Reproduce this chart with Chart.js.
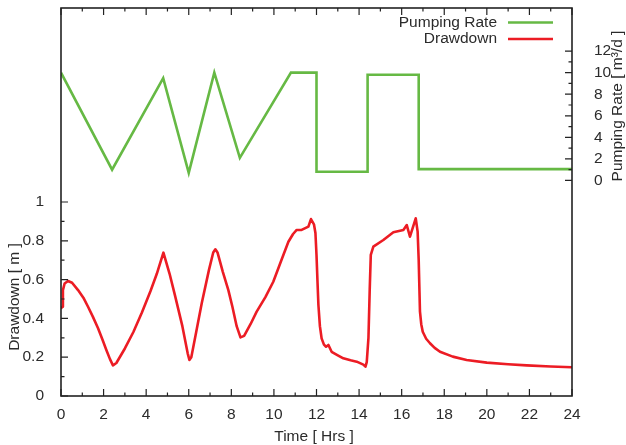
<!DOCTYPE html>
<html>
<head>
<meta charset="utf-8">
<script src="https://cdn.jsdelivr.net/npm/chart.js@4"></script>
<style>
  html, body { margin: 0; padding: 0; background: #fff; }
  #wrap { width: 626px; height: 445px; position: relative; }
</style>
</head>
<body>
<div id="wrap"><canvas id="c" width="626" height="445"></canvas></div>
<script>
// ---- data ----
const pumpTime = [0, 2.4, 4.8, 6.0, 7.2, 8.4, 10.8, 12.0, 12.0, 14.4, 14.4, 16.8, 16.8, 24];
const pumpRate = [10, 1, 9.5, 0.7, 10, 2.1, 10, 10, 0.8, 0.8, 9.8, 9.8, 1.05, 1.05];

const ddTime = [0, 0.05, 0.09, 0.17, 0.33, 0.52, 0.8, 1.05, 1.27, 1.5, 1.74, 1.95, 2.13, 2.3, 2.44,
  2.6, 3.0, 3.4, 3.8, 4.2, 4.5, 4.81, 5.1, 5.35, 5.7, 5.95, 6.03, 6.12, 6.35, 6.61, 6.95, 7.15, 7.25,
  7.35, 7.6, 7.86, 8.05, 8.25, 8.43, 8.6, 8.9, 9.19, 9.6, 9.97, 10.35, 10.68, 10.9, 11.07, 11.3, 11.62,
  11.74, 11.88, 11.95, 12.0, 12.05, 12.09, 12.16, 12.24, 12.35, 12.45, 12.56, 12.71, 13.0, 13.26,
  13.6, 13.89, 14.2, 14.3, 14.36, 14.44, 14.5, 14.55, 14.67, 15.14, 15.61, 16.08, 16.24, 16.39,
  16.66, 16.75, 16.8, 16.86, 16.92, 16.99, 17.15, 17.33, 17.55, 17.8, 18.4, 19.05, 20.0, 21.0,
  21.87, 23.0, 24];
const drawdown = [0.45, 0.46, 0.546, 0.58, 0.593, 0.584, 0.546, 0.507, 0.46, 0.408, 0.349, 0.29, 0.237, 0.19, 0.158,
  0.17, 0.245, 0.33, 0.43, 0.54, 0.63, 0.739, 0.63, 0.52, 0.36, 0.22, 0.186, 0.2, 0.33, 0.478, 0.65, 0.74, 0.756,
  0.74, 0.64, 0.546, 0.46, 0.36, 0.302, 0.31, 0.37, 0.435, 0.51, 0.589, 0.7, 0.795, 0.835, 0.856, 0.856, 0.873,
  0.912, 0.885, 0.84, 0.727, 0.58, 0.469, 0.36, 0.297, 0.265, 0.254, 0.263, 0.228, 0.21, 0.194,
  0.184, 0.177, 0.162, 0.151, 0.175, 0.3, 0.55, 0.727, 0.77, 0.804, 0.844, 0.856, 0.881, 0.821,
  0.916, 0.847, 0.7, 0.435, 0.37, 0.331, 0.295, 0.272, 0.248, 0.228, 0.203, 0.186, 0.172, 0.164,
  0.158, 0.152, 0.148];

const xMajorLabels = [0, 2, 4, 6, 8, 10, 12, 14, 16, 18, 20, 22, 24];
const yLeftLabels = [0, 0.2, 0.4, 0.6, 0.8, 1];
const yRightLabels = [0, 2, 4, 6, 8, 10, 12];

const seriesNames = ['Pumping Rate', 'Drawdown'];
const seriesColors = ['#66b944', '#ec1c24'];
const xTitle = 'Time [ Hrs ]';
const yTitle = 'Drawdown [ m ]';
const y2Title = 'Pumping Rate [ m\u00B3/d ]';

// ---- chart ----
const FONT = '"Liberation Sans", Arial, Helvetica, sans-serif';
const FSIZE = 15.5;
const TXT = '#2b2b2b';
Chart.defaults.font.family = FONT;
Chart.defaults.font.size = FSIZE;
Chart.defaults.color = TXT;

const near = (a, b) => Math.abs(a - b) < 1e-6;

const decorPlugin = {
  id: 'decor',
  afterDraw(chart) {
    const ctx = chart.ctx;
    const a = chart.chartArea;
    const xs = chart.scales.x, ys = chart.scales.y, y2 = chart.scales.y2;
    ctx.save();
    // border
    ctx.strokeStyle = '#222';
    ctx.lineWidth = 1.6;
    ctx.strokeRect(a.left, a.top, a.right - a.left, a.bottom - a.top);
    // ticks
    ctx.lineWidth = 1.2;
    ctx.beginPath();
    xs.ticks.forEach(t => {
      const px = xs.getPixelForValue(t.value);
      const len = xMajorLabels.some(v => near(v, t.value)) ? 7 : 3.5;
      ctx.moveTo(px, a.bottom); ctx.lineTo(px, a.bottom - len);
      ctx.moveTo(px, a.top); ctx.lineTo(px, a.top + len);
    });
    ys.ticks.forEach(t => {
      if (t.value > 1.0001) return;
      const py = ys.getPixelForValue(t.value);
      const len = yLeftLabels.some(v => near(v, t.value)) ? 7 : 3.5;
      ctx.moveTo(a.left, py); ctx.lineTo(a.left + len, py);
    });
    y2.ticks.forEach(t => {
      if (t.value < -0.001 || t.value > 12.001) return;
      const py = y2.getPixelForValue(t.value);
      const len = yRightLabels.some(v => near(v, t.value)) ? 7 : 3.5;
      ctx.moveTo(a.right, py); ctx.lineTo(a.right - len, py);
    });
    ctx.stroke();

    // legend
    ctx.font = FSIZE + 'px ' + FONT;
    ctx.textAlign = 'right';
    ctx.textBaseline = 'middle';
    const legY = [22.5, 39];
    chart.data.datasets.forEach((ds, i) => {
      ctx.fillStyle = TXT;
      ctx.fillText(ds.label, 497, legY[i]);
      ctx.strokeStyle = ds.borderColor;
      ctx.lineWidth = 2.5;
      ctx.beginPath();
      ctx.moveTo(508, legY[i]); ctx.lineTo(553, legY[i]);
      ctx.stroke();
    });

    // axis titles
    ctx.fillStyle = TXT;
    ctx.textAlign = 'center';
    ctx.textBaseline = 'middle';
    ctx.fillText(xTitle, 314, 437);
    ctx.save();
    ctx.translate(15, 297);
    ctx.rotate(-Math.PI / 2);
    ctx.fillText(yTitle, 0, 0);
    ctx.restore();
    ctx.save();
    ctx.translate(618, 106);
    ctx.rotate(-Math.PI / 2);
    ctx.fillText(y2Title, 0, 0);
    ctx.restore();
    ctx.restore();
  }
};

const fitV = w => s => { s.width = w; s.paddingTop = 0; s.paddingBottom = 0; };

new Chart(document.getElementById('c'), {
  type: 'line',
  data: {
    datasets: [
      {
        label: seriesNames[0],
        data: pumpTime.map((t, i) => ({ x: t, y: pumpRate[i] })),
        borderColor: seriesColors[0],
        borderWidth: 2.6,
        pointRadius: 0,
        tension: 0,
        yAxisID: 'y2',
        borderJoinStyle: 'miter'
      },
      {
        label: seriesNames[1],
        data: ddTime.map((t, i) => ({ x: t, y: drawdown[i] })),
        borderColor: seriesColors[1],
        borderWidth: 2.6,
        pointRadius: 0,
        tension: 0,
        yAxisID: 'y',
        borderJoinStyle: 'round'
      }
    ]
  },
  options: {
    responsive: false,
    animation: false,
    devicePixelRatio: 1,
    layout: { padding: { top: 8, left: 0, right: 0, bottom: 0 } },
    plugins: { legend: { display: false }, tooltip: { enabled: false } },
    scales: {
      x: {
        type: 'linear', min: 0, max: 24,
        grid: { display: false }, border: { display: false },
        ticks: {
          stepSize: 1, autoSkip: false, maxRotation: 0, padding: 1,
          callback: v => xMajorLabels.some(m => near(m, v)) ? String(Math.round(v)) : ''
        },
        afterFit: s => { s.height = 49; s.paddingLeft = 0; s.paddingRight = 0; }
      },
      y: {
        type: 'linear', position: 'left', min: 0, max: 2,
        grid: { display: false }, border: { display: false },
        ticks: {
          stepSize: 0.1, autoSkip: false, padding: 9,
          callback: v => yLeftLabels.some(m => near(m, v)) ? String(Math.round(v * 10) / 10) : ''
        },
        afterFit: fitV(61)
      },
      y2: {
        type: 'linear', position: 'right', min: -20, max: 16,
        grid: { display: false }, border: { display: false },
        ticks: {
          stepSize: 1, autoSkip: false, padding: 14,
          callback: v => yRightLabels.some(m => near(m, v)) ? String(Math.round(v)) : ''
        },
        afterFit: fitV(54)
      }
    }
  },
  plugins: [decorPlugin]
});
</script>
</body>
</html>
